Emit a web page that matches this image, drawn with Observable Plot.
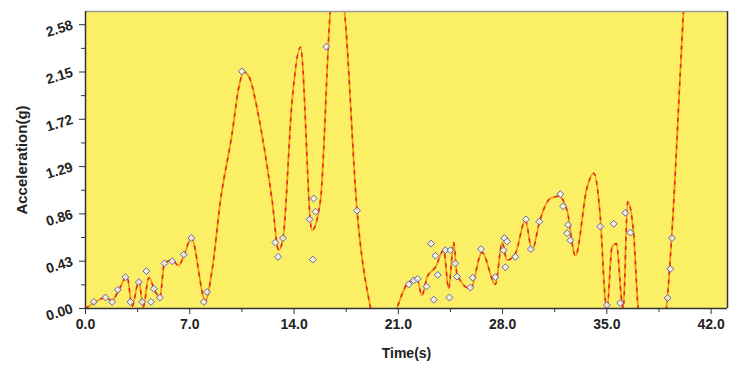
<!DOCTYPE html>
<html>
<head>
<meta charset="utf-8">
<script src="https://cdn.jsdelivr.net/npm/d3@7"></script>
<script src="https://cdn.jsdelivr.net/npm/@observablehq/plot@0.6"></script>
<style>
  html, body { margin: 0; padding: 0; background: #ffffff; }
  svg { display: block; }
</style>
</head>
<body>
<div id="chart"></div>
<script>
// Measured samples (markers)
const sampleTime = [0.56, 1.34, 1.79, 2.17, 2.68, 3.02, 3.58, 3.8, 4.09, 4.4, 4.59, 4.99, 5.3, 5.82, 6.6, 7.11,
  7.94, 8.16, 10.5, 12.75, 12.93, 13.26, 15.05, 15.26, 15.32, 15.44, 16.17, 18.23,
  21.7, 22.03, 22.3, 22.89, 23.2, 23.38, 23.49, 23.65, 24.16, 24.43, 24.5, 24.83, 24.94, 25.84, 26.0, 26.55,
  27.52, 28.07, 28.12, 28.19, 28.3, 28.86, 29.57, 29.9, 30.47, 31.88, 32.06, 32.33, 32.4, 32.55,
  34.56, 35.0, 35.46, 35.9, 36.24, 36.58, 39.08, 39.26, 39.37];
const sampleAccel = [0.06, 0.10, 0.06, 0.17, 0.285, 0.06, 0.24, 0.06, 0.34, 0.06, 0.18, 0.10, 0.41, 0.43, 0.49, 0.64,
  0.06, 0.15, 2.155, 0.60, 0.47, 0.64, 0.81, 0.445, 1.0, 0.88, 2.38, 0.89,
  0.22, 0.255, 0.27, 0.20, 0.59, 0.08, 0.48, 0.305, 0.53, 0.10, 0.53, 0.41, 0.29, 0.19, 0.28, 0.54,
  0.285, 0.53, 0.64, 0.375, 0.61, 0.47, 0.81, 0.54, 0.79, 1.04, 0.93, 0.685, 0.76, 0.62,
  0.745, 0.03, 0.77, 0.05, 0.87, 0.69, 0.095, 0.36, 0.64];

// Fitted curve (at its turning points)
const curveTime = [0, 0.56, 1.34, 1.79, 2.17, 2.79, 3.13, 3.58, 3.87, 4.25, 4.7, 4.99, 5.3, 5.82, 6.26, 6.6, 7.11,
  8.05, 8.5, 9.06, 9.84, 10.29, 10.62, 11.0, 11.63, 12.53, 12.97, 13.26, 13.87, 14.43, 15.2, 15.77, 16.44, 16.9, 17.38,
  18.23, 19.13, 20.0, 20.9, 21.58, 22.25, 22.59, 22.93, 23.49, 24.05, 24.38, 24.72, 24.94, 25.84, 26.62,
  27.52, 27.97, 28.3, 28.86, 29.53, 29.98, 30.5, 31.2, 31.77, 32.33, 32.89, 33.67, 34.12, 34.56, 34.9, 35.0,
  35.35, 35.64, 36.0, 36.1, 36.4, 36.8, 37.1, 38.0, 39.0, 39.35, 40.15, 40.5];
const curveAccel = [0, 0.05, 0.10, 0.07, 0.15, 0.29, 0.02, 0.25, 0.01, 0.28, 0.15, 0.10, 0.41, 0.44, 0.39, 0.48, 0.64,
  0.07, 0.35, 0.98, 1.59, 2.01, 2.15, 2.10, 1.74, 0.98, 0.53, 0.64, 1.89, 2.375, 0.71, 0.98, 2.71, 3.1, 2.71,
  0.89, 0.01, -0.35, 0.0, 0.22, 0.27, 0.12, 0.285, 0.375, 0.53, 0.18, 0.60, 0.31, 0.18, 0.51,
  0.22, 0.60, 0.44, 0.50, 0.80, 0.53, 0.80, 1.0, 1.02, 0.89, 0.48, 1.10, 1.23, 0.83, 0.07, -0.02,
  0.56, 0.59, 0.07, 0.0, 0.97, 0.68, 0.01, -0.5, 0.01, 0.65, 2.71, 3.5];

const xMajorTicks = [0, 7, 14, 21, 28, 35, 42];
const xMinorTicks = [3.5, 10.5, 17.5, 24.5, 31.5, 38.5];
const yMajorTicks = [0, 0.43, 0.86, 1.29, 1.72, 2.15, 2.58];
const yMinorTicks = [0.215, 0.645, 1.075, 1.505, 1.935, 2.365];

const samples = sampleTime.map((t, i) => ({t, a: sampleAccel[i]}));
const curve = curveTime.map((t, i) => ({t, a: curveAccel[i]}));

const X_MAX = 43.1, Y_MAX = 2.70;

const chart = Plot.plot({
  width: 739,
  height: 375,
  marginLeft: 85,
  marginRight: 12,
  marginTop: 11,
  marginBottom: 67,
  style: {background: "#ffffff", fontFamily: "Liberation Sans, Arial, sans-serif"},
  x: {domain: [0, X_MAX]},
  y: {domain: [0, Y_MAX]},
  marks: [
    Plot.rect([0], {x1: 0, x2: X_MAX, y1: 0, y2: Y_MAX, fill: "#fbef66"}),
    Plot.line(curve, {x: "t", y: "a", curve: "monotone-x", stroke: "#f39a1c", strokeWidth: 1.8, clip: true}),
    Plot.line(curve, {x: "t", y: "a", curve: "monotone-x", stroke: "#e3261c", strokeWidth: 1.5, strokeDasharray: "3,6", clip: true}),
    Plot.dot(samples, {x: "t", y: "a", symbol: "diamond2", r: 3.1, fill: "#f7f5e6", fillOpacity: 0.8, stroke: "#5a63c8", strokeWidth: 1}),
    Plot.ruleY([Y_MAX], {stroke: "#9a9a9a", strokeWidth: 1.5}),
    Plot.ruleX([X_MAX], {stroke: "#333333", strokeWidth: 1.5}),
    Plot.ruleX([0], {stroke: "#333333", strokeWidth: 1.5}),
    Plot.ruleY([0], {stroke: "#333333", strokeWidth: 1.5}),
    Plot.axisX({ticks: xMajorTicks, tickSize: 6, tickFormat: d => d.toFixed(1), fontSize: 14, fontWeight: "bold", tickPadding: 5, label: null, stroke: "#333", fill: "#222"}),
    Plot.axisX({ticks: xMinorTicks, tickSize: 4, tickFormat: () => "", label: null, stroke: "#333"}),
    Plot.axisY({ticks: yMajorTicks, tickSize: 6, tickFormat: () => "", label: null, stroke: "#333"}),
    Plot.axisY({ticks: yMinorTicks, tickSize: 4, tickFormat: () => "", label: null, stroke: "#333"}),
    Plot.text(yMajorTicks, {x: 0, y: d => d, text: d => d.toFixed(2), dx: -13, textAnchor: "end", rotate: -17, fontSize: 14, fontWeight: "bold", fill: "#222", clip: false}),
    Plot.text(["Time(s)"], {frameAnchor: "bottom", dy: 49, fontSize: 14, fontWeight: "bold", fill: "#222"}),
    Plot.text(["Acceleration(g)"], {frameAnchor: "left", textAnchor: "middle", dx: -63, rotate: -90, fontSize: 15, fontWeight: "bold", fill: "#222"})
  ]
});
document.getElementById("chart").appendChild(chart);
</script>
</body>
</html>
